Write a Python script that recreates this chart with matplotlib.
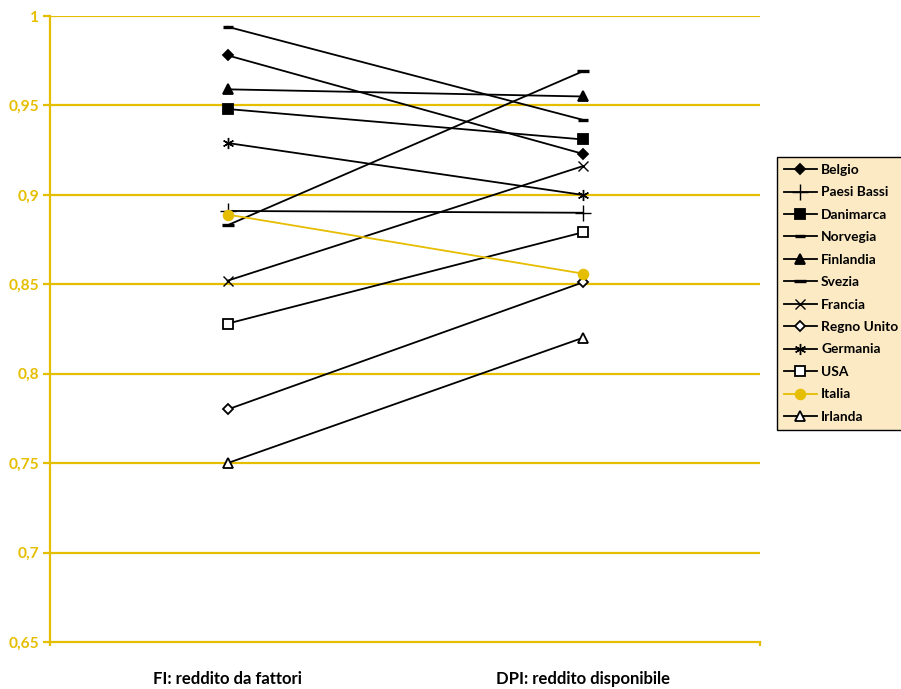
import matplotlib.pyplot as plt

plt.rcParams['font.family'] = ['Lato', 'DejaVu Sans']

categories = ['FI: reddito da fattori', 'DPI: reddito disponibile']
countries = ['Belgio', 'Paesi Bassi', 'Danimarca', 'Norvegia', 'Finlandia', 'Svezia',
             'Francia', 'Regno Unito', 'Germania', 'USA', 'Italia', 'Irlanda']
fi_values = [0.978, 0.891, 0.948, 0.994, 0.959, 0.883,
             0.852, 0.780, 0.929, 0.828, 0.889, 0.750]
dpi_values = [0.923, 0.890, 0.931, 0.942, 0.955, 0.969,
              0.916, 0.851, 0.900, 0.879, 0.856, 0.820]
y_ticks = [0.65, 0.7, 0.75, 0.8, 0.85, 0.9, 0.95, 1.0]
y_labels = ['0,65', '0,7', '0,75', '0,8', '0,85', '0,9', '0,95', '1']

gold = '#E6BE00'
black = '#000000'

# marker, size, face colour, line colour
styles = {
    'Belgio': ('D', 5, black, black),
    'Paesi Bassi': ('+', 11, black, black),
    'Danimarca': ('s', 7, black, black),
    'Norvegia': ('_', 7, black, black),
    'Finlandia': ('^', 7, black, black),
    'Svezia': ('_', 9, black, black),
    'Francia': ('x', 7, black, black),
    'Regno Unito': ('D', 5.5, 'white', black),
    'Germania': ((6, 2, 0), 8, black, black),
    'USA': ('s', 7, 'white', black),
    'Italia': ('o', 7, gold, gold),
    'Irlanda': ('^', 7, 'white', black),
}

fig = plt.figure(figsize=(9.01, 6.89), dpi=100)
ax = fig.add_axes([50 / 901, 1 - 642 / 689, 710 / 901, 626 / 689])

xs = [0.5, 1.5]
handles = []
for name, a, b in zip(countries, fi_values, dpi_values):
    m, ms, fc, lc = styles[name]
    mew = 2.4 if m == '_' else (1.0 if m in ('+', 'x', (6, 2, 0)) else 1.3)
    h, = ax.plot(xs, [a, b], color=lc, lw=1.3, marker=m, markersize=ms,
                 markerfacecolor=fc, markeredgecolor=lc, markeredgewidth=mew,
                 label=name, zorder=3)
    handles.append(h)

ax.set_xlim(0, 2)
ax.set_ylim(0.65, 1.0)
ax.set_yticks(y_ticks)
ax.set_yticklabels(y_labels)
for y in y_ticks[1:]:
    ax.axhline(y, color=gold, lw=1.6, zorder=1)

ax.set_xticks(xs)
ax.set_xticklabels(categories, fontweight='bold', fontsize=12)
ax.tick_params(axis='x', length=0, pad=21)
ax.set_xticks([0, 2], minor=True)
ax.tick_params(axis='x', which='minor', length=3, color=gold, width=1.6)
ax.tick_params(axis='y', length=5, color=gold, width=1.6, labelcolor=gold,
               labelsize=11.2, pad=3)
for lbl in ax.get_yticklabels():
    lbl.set_fontweight('bold')

for s in ['top', 'right']:
    ax.spines[s].set_visible(False)
for s in ['left', 'bottom']:
    ax.spines[s].set_color(gold)
    ax.spines[s].set_linewidth(1.6)

leg = ax.legend(handles=handles, loc='upper left',
                bbox_to_anchor=(777 / 901, 1 - 157 / 689),
                bbox_transform=fig.transFigure, frameon=True, fancybox=False,
                facecolor='#FBEAC4', edgecolor='black', framealpha=1,
                prop={'weight': 'bold', 'size': 9.9}, handlelength=2.4,
                handletextpad=0.3, labelspacing=0.76, borderpad=0.5,
                borderaxespad=0)
leg.get_frame().set_linewidth(1.0)

fig.savefig('out.png', dpi=100)
